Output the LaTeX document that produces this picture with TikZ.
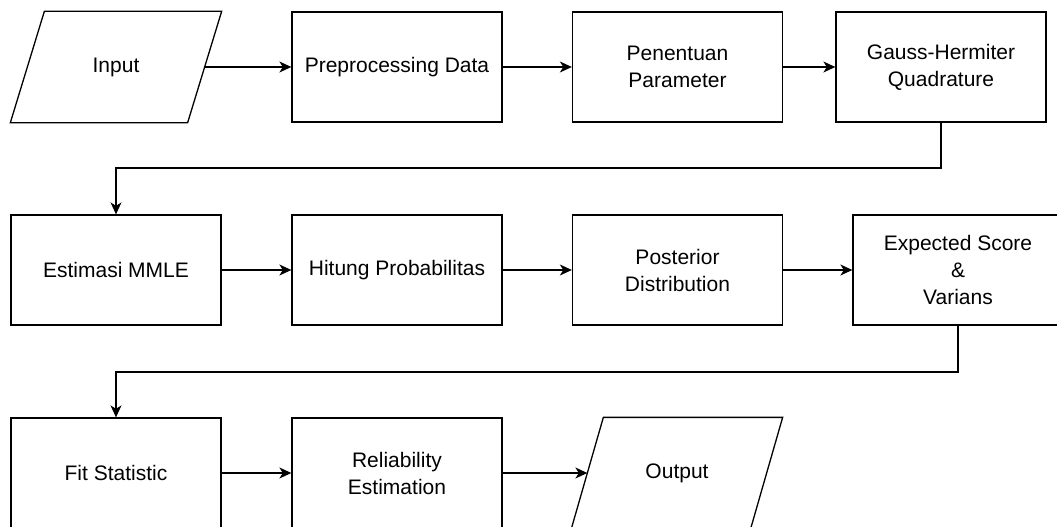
\documentclass[tikz,border=0pt]{standalone}
\usepackage{fontspec}
\setmainfont{Liberation Sans}
\usetikzlibrary{arrows.meta,calc}
\begin{document}
\begin{tikzpicture}[x=1pt,y=-1pt,
  every node/.style={font=\fontsize{21}{27}\selectfont, align=center, line width=1.3pt},
  box/.style={draw, rectangle, minimum width=210pt, minimum height=110pt, inner sep=0pt},
  io/.style={rectangle, minimum width=210pt, minimum height=110pt, inner sep=0pt},
  arr/.style={line width=1.3pt, -{Stealth[length=12pt,width=11pt,inset=3.5pt]}},
  ln/.style={line width=1.3pt, line join=miter}]
\useasboundingbox (0,0) rectangle (1057,527);
\clip (0,0) rectangle (1057,527);
% row 1
\node[io]  (in)   at (116,67)  {Input};
\draw[ln] ($(in.north west)+(34,0)$) -- (in.north east) -- ($(in.south east)+(-34,0)$) -- (in.south west) -- cycle;
\node[box] (pre)  at (397,67)  {Preprocessing Data};
\node[box] (pen)  at (677.5,67) {Penentuan\\Parameter};
\node[box] (gh)   at (941,67)  {Gauss-Hermiter\\Quadrature};
% row 2
\node[box] (mmle) at (116,270) {Estimasi MMLE};
\node[box] (hit)  at (397,270) {Hitung Probabilitas};
\node[box] (post) at (677.5,270) {Posterior\\Distribution};
\node[box] (exp)  at (958,270) {Expected Score\\\&\\Varians};
% row 3
\node[box] (fit)  at (116,473) {Fit Statistic};
\node[box] (rel)  at (397,473) {Reliability\\Estimation};
\node[io]  (out)  at (677,473) {Output};
\draw[ln] ($(out.north west)+(32,0)$) -- (out.north east) -- ($(out.south east)+(-32,0)$) -- (out.south west) -- cycle;
% connectors
\coordinate (inr)  at ($(in.east)+(-17,0)$);
\coordinate (outl) at ($(out.west)+(16,0)$);
\draw[arr] (inr) -- (pre);
\draw[arr] (pre) -- (pen);
\draw[arr] (pen) -- (gh);
\coordinate (k1) at (941,168);
\draw[arr] (gh.south) -- (k1) -| (mmle.north);
\draw[arr] (mmle) -- (hit);
\draw[arr] (hit) -- (post);
\draw[arr] (post) -- (exp);
\coordinate (k2) at (958,372);
\draw[arr] (exp.south) -- (k2) -| (fit.north);
\draw[arr] (fit) -- (rel);
\draw[arr] (rel) -- (outl);
\end{tikzpicture}
\end{document}
